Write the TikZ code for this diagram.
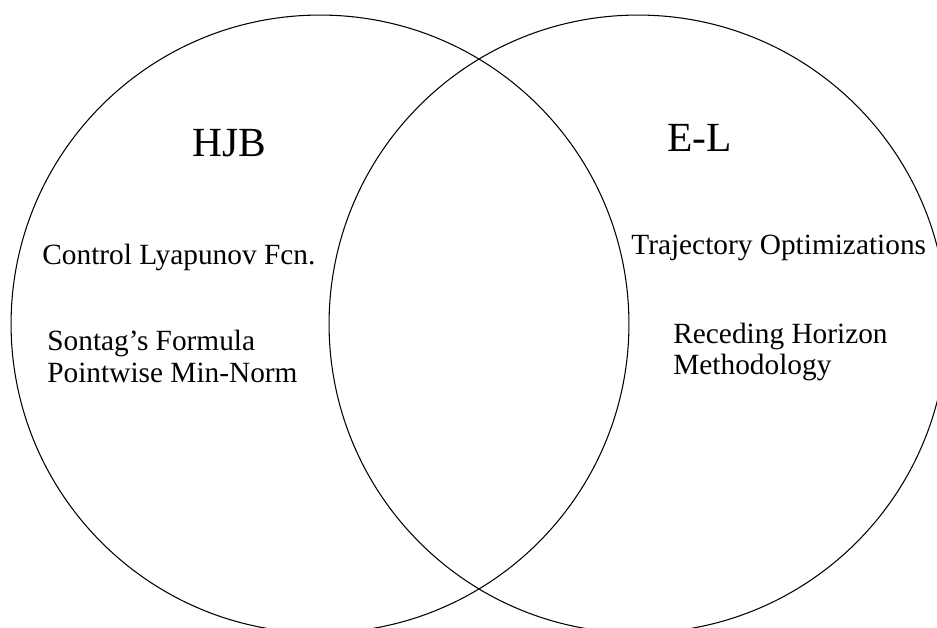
\documentclass[tikz,border=0pt]{standalone}
\usepackage{fontspec}
\setmainfont{Liberation Serif}
\usepackage{tikz}
\tikzset{
    set/.style={shape=circle,draw=black,line width=0.6pt,minimum size=12.36cm,inner sep=0pt},
    title/.style={font=\fontsize{23.6}{28}\selectfont,inner sep=0pt,anchor=base west},
    item/.style={font=\fontsize{16.7}{20}\selectfont,inner sep=0pt,anchor=base west}
}
\begin{document}
\begin{tikzpicture}[x=0.02cm,y=-0.02cm]
		\useasboundingbox (0,0) rectangle (937,628);
		\node[set] (H) at (320,324) {};
		\node[set] (E) at (638,324) {};
		
		\node[title] (HJB) at (192,157) {HJB};
		\node[title] (EL) at (667,152) {E-L};
		
		\node[item] (clf) at (42,265) {Control Lyapunov Fcn.};
		\node[item] (sontag) at (47,351) {Sontag's Formula};
		\node[item] (minnorm) at (47,382) {Pointwise Min-Norm};
		
		\node[item] (traj) at (631,255) {Trajectory Optimizations};
		\node[item] (rh) at (673,344) {Receding Horizon};
		\node[item] (meth) at (673,375) {Methodology};
		\end{tikzpicture}
\end{document}
